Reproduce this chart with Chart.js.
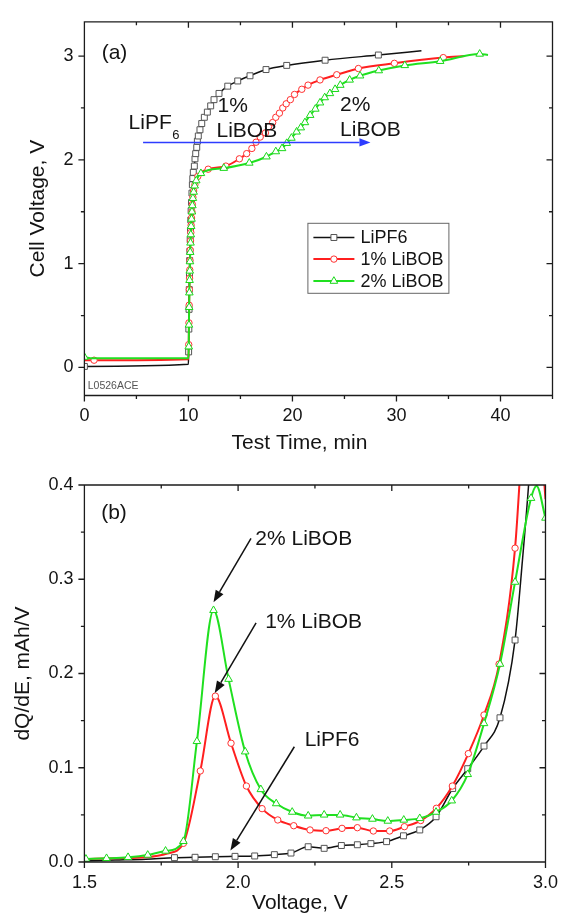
<!DOCTYPE html>
<html>
<head>
<meta charset="utf-8">
<script src="https://cdn.jsdelivr.net/npm/chart.js@4.4.1/dist/chart.umd.min.js"></script>
<style>
    html, body { margin: 0; padding: 0; background: #fff; overflow: hidden; }
    .panel { position: absolute; left: 0; width: 568px; height: 460px; }
    #panelA { top: 0; }
    #panelB { top: 460px; }
</style>
</head>
<body>
<div class="panel" id="panelA"><canvas id="chartA" width="568" height="460"></canvas></div>
<div class="panel" id="panelB"><canvas id="chartB" width="568" height="460"></canvas></div>
<script>
// --- Panel (a): cell voltage vs test time ---
const timeTicks = [0, 10, 20, 30, 40];
const timeMinor = [5, 15, 25, 35, 45];
const voltTicks = [0, 1, 2, 3];
const voltMinor = [0.5, 1.5, 2.5];

const timeLiPF6 = [0, 10, 10.02, 10.04, 10.06, 10.08, 10.1, 10.12, 10.14, 10.17, 10.2, 10.23, 10.26, 10.3, 10.34, 10.38, 10.42, 10.47, 10.57, 10.63, 10.7, 10.8, 10.86, 10.95, 11.11, 11.28, 11.53, 11.82, 12.14, 12.46, 12.94, 13.78, 14.74, 15.92, 17.46, 19.45, 23.14, 28.26, 32.4];
const voltLiPF6 = [0.01, 0.03, 0.15, 0.37, 0.56, 0.75, 0.89, 1.03, 1.12, 1.23, 1.32, 1.42, 1.51, 1.59, 1.68, 1.76, 1.82, 1.88, 1.94, 2.01, 2.06, 2.12, 2.18, 2.23, 2.29, 2.35, 2.41, 2.46, 2.52, 2.58, 2.64, 2.71, 2.76, 2.81, 2.87, 2.91, 2.96, 3.01, 3.05];

const time1pct = [0, 0.93, 10, 10.03, 10.05, 10.07, 10.09, 10.11, 10.13, 10.15, 10.17, 10.2, 10.23, 10.26, 10.3, 10.34, 10.38, 10.43, 10.5, 10.62, 10.9, 11.9, 13.6, 14.9, 15.6, 16.1, 16.5, 16.9, 17.4, 17.7, 18.1, 18.4, 18.75, 19.07, 19.4, 19.8, 20.2, 20.9, 21.5, 22.65, 24.26, 26.34, 29.8, 34.5, 36.6];
const volt1pct = [0.07, 0.07, 0.08, 0.22, 0.43, 0.6, 0.75, 0.86, 0.94, 1.03, 1.13, 1.22, 1.3, 1.37, 1.44, 1.5, 1.57, 1.64, 1.7, 1.76, 1.84, 1.91, 1.94, 2.01, 2.06, 2.11, 2.17, 2.22, 2.26, 2.32, 2.36, 2.41, 2.45, 2.5, 2.54, 2.58, 2.63, 2.68, 2.72, 2.77, 2.82, 2.88, 2.93, 2.985, 3.0];

const time2pct = [0, 0.6, 10, 10.03, 10.05, 10.07, 10.09, 10.11, 10.13, 10.15, 10.17, 10.2, 10.23, 10.26, 10.3, 10.34, 10.38, 10.43, 10.5, 10.6, 10.75, 11.2, 13.4, 15.85, 17.5, 18.4, 19.0, 19.45, 19.9, 20.4, 20.8, 21.2, 21.7, 22.2, 22.65, 23.1, 23.6, 24.1, 24.6, 25.5, 26.5, 28.3, 30.8, 34.2, 38.0, 38.8];
const volt2pct = [0.1, 0.09, 0.09, 0.2, 0.41, 0.58, 0.72, 0.84, 0.93, 1.02, 1.11, 1.2, 1.28, 1.36, 1.43, 1.5, 1.56, 1.63, 1.69, 1.75, 1.8, 1.87, 1.92, 1.97, 2.03, 2.08, 2.11, 2.16, 2.21, 2.27, 2.31, 2.36, 2.43, 2.49, 2.55, 2.6, 2.64, 2.68, 2.72, 2.77, 2.81, 2.86, 2.91, 2.95, 3.02, 3.01];

// --- Panel (b): dQ/dE vs voltage ---
const biasTicks = [1.5, 2.0, 2.5, 3.0];
const biasMinor = [1.75, 2.25, 2.75];
const dqdeTicks = [0, 0.1, 0.2, 0.3, 0.4];
const dqdeMinor = [0.05, 0.15, 0.25, 0.35];

const biasLiPF6 = [1.5, 1.6, 1.7, 1.793, 1.86, 1.926, 1.99, 2.054, 2.118, 2.172, 2.228, 2.28, 2.336, 2.388, 2.432, 2.483, 2.538, 2.591, 2.644, 2.698, 2.747, 2.8, 2.852, 2.901, 2.925, 2.945, 2.965];
const dqdeLiPF6 = [0.001, 0.002, 0.003, 0.0046, 0.005, 0.0056, 0.006, 0.0064, 0.0078, 0.0095, 0.0162, 0.0145, 0.0175, 0.0183, 0.0195, 0.0216, 0.0278, 0.034, 0.048, 0.078, 0.099, 0.123, 0.153, 0.2355, 0.32, 0.4, 0.5];

const bias1pct = [1.5, 1.6, 1.7, 1.77, 1.822, 1.877, 1.926, 1.977, 2.027, 2.078, 2.129, 2.181, 2.234, 2.286, 2.338, 2.388, 2.44, 2.493, 2.541, 2.594, 2.645, 2.697, 2.749, 2.8, 2.849, 2.901, 2.925, 2.95, 2.985, 3.0];
const dqde1pct = [0.003, 0.004, 0.005, 0.009, 0.0198, 0.0966, 0.176, 0.126, 0.0806, 0.0566, 0.0446, 0.0385, 0.034, 0.0332, 0.0357, 0.0364, 0.0329, 0.0329, 0.0375, 0.044, 0.057, 0.0806, 0.115, 0.156, 0.21, 0.333, 0.45, 0.55, 0.45, 0.385];

const bias2pct = [1.505, 1.572, 1.642, 1.706, 1.764, 1.822, 1.866, 1.92, 1.969, 2.023, 2.074, 2.124, 2.176, 2.228, 2.28, 2.332, 2.385, 2.437, 2.487, 2.539, 2.591, 2.644, 2.695, 2.747, 2.8, 2.852, 2.901, 2.953, 2.971, 3.0];
const dqde2pct = [0.0032, 0.0039, 0.005, 0.0074, 0.0117, 0.022, 0.128, 0.267, 0.194, 0.117, 0.077, 0.062, 0.053, 0.049, 0.05, 0.05, 0.047, 0.0456, 0.0435, 0.0446, 0.0463, 0.053, 0.065, 0.093, 0.147, 0.21, 0.297, 0.386, 0.399, 0.365];

const seriesNames = ['LiPF6', '1% LiBOB', '2% LiBOB'];

const FONT = '"Liberation Sans", Arial, Helvetica, sans-serif';
const INK = '#141414';
const STYLES = [
    { line: '#111111', edge: '#555555', shape: 'rect', radius: 4.2, width: 1.5 },
    { line: '#ff1f1f', edge: '#ff3030', shape: 'circle', radius: 3.2, width: 2 },
    { line: '#20e020', edge: '#18d818', shape: 'triangle', radius: 4.4, width: 2 }
];

// points without a marker (line-only vertices), listed by x value
const noMarkA = [[10, 32.4], [0, 10, 36.6], [0.6, 10, 38.8]];
const noMarkB = [[1.5, 1.6, 1.7, 2.925, 2.945, 2.965], [1.5, 1.6, 1.7, 1.77, 2.925, 2.95, 2.985, 3.0], [2.971]];

function points(xs, ys, bare) {
    return xs.map((x, i) => ({ x, y: ys[i], bare: bare.includes(x) }));
}

function makeDataset(i, data) {
    const s = STYLES[i];
    return {
        label: seriesNames[i],
        data,
        order: 3 - i,
        borderColor: s.line,
        borderWidth: s.width,
        cubicInterpolationMode: 'monotone',
        pointStyle: s.shape,
        pointRadius: ctx => (ctx.raw && ctx.raw.bare ? 0 : s.radius),
        pointBorderColor: s.edge,
        pointBackgroundColor: '#ffffff',
        pointBorderWidth: 1
    };
}

function txt(ctx, str, x, y, size, color, align) {
    ctx.font = size + 'px ' + FONT;
    ctx.fillStyle = color || INK;
    ctx.textAlign = align || 'left';
    ctx.textBaseline = 'middle';
    ctx.fillText(str, x, y);
}

function arrow(ctx, x1, y1, x2, y2, color, head, half) {
    const ang = Math.atan2(y2 - y1, x2 - x1);
    const bx = x2 - Math.cos(ang) * head, by = y2 - Math.sin(ang) * head;
    ctx.strokeStyle = color;
    ctx.fillStyle = color;
    ctx.lineWidth = 1.5;
    ctx.beginPath();
    ctx.moveTo(x1, y1);
    ctx.lineTo(bx, by);
    ctx.stroke();
    ctx.beginPath();
    ctx.moveTo(x2, y2);
    ctx.lineTo(bx + Math.sin(ang) * half, by - Math.cos(ang) * half);
    ctx.lineTo(bx - Math.sin(ang) * half, by + Math.cos(ang) * half);
    ctx.closePath();
    ctx.fill();
}

// frame with Origin-style ticks: out on left/bottom, in on top/right
function framePlugin(xMaj, xMin, yMaj, yMin, xTitle, xTitleShift) {
    return {
        id: 'frame',
        afterDatasetsDraw(chart) {
            const { ctx, chartArea: a } = chart;
            const sx = chart.scales.x, sy = chart.scales.y;
            ctx.save();
            ctx.strokeStyle = '#1c1c1c';
            ctx.lineWidth = 1.3;
            ctx.beginPath();
            ctx.rect(a.left, a.top, a.right - a.left, a.bottom - a.top);
            const xt = (vals, len) => vals.forEach(v => {
                const p = sx.getPixelForValue(v);
                ctx.moveTo(p, a.bottom); ctx.lineTo(p, a.bottom + len);
                ctx.moveTo(p, a.top); ctx.lineTo(p, a.top + len);
            });
            const yt = (vals, len) => vals.forEach(v => {
                const p = sy.getPixelForValue(v);
                ctx.moveTo(a.left, p); ctx.lineTo(a.left - len, p);
                ctx.moveTo(a.right, p); ctx.lineTo(a.right - len, p);
            });
            xt(xMaj, 6); xt(xMin, 3.5);
            yt(yMaj, 6); yt(yMin, 3.5);
            ctx.stroke();
            // bottom axis title sits a little left of centre in the original
            txt(ctx, xTitle, (a.left + a.right) / 2 + xTitleShift, chart.height - 17, 21, INK, 'center');
            ctx.restore();
        }
    };
}

function scales(xr, xt, xf, yr, yt, yf, yTitle, yTitlePad, xHeight) {
    const tickFont = { family: FONT, size: 18 };
    return {
        x: {
            type: 'linear', min: xr[0], max: xr[1], bounds: 'data',
            grid: { display: false, drawTicks: false }, border: { display: false },
            ticks: { padding: 10, font: tickFont, color: INK, maxRotation: 0, autoSkip: false, callback: xf },
            afterBuildTicks: s => { s.ticks = xt.map(v => ({ value: v })); },
            afterFit: s => { s.height = xHeight; }
        },
        y: {
            type: 'linear', min: yr[0], max: yr[1], bounds: 'data',
            grid: { display: false, drawTicks: false }, border: { display: false },
            ticks: { padding: 11, font: tickFont, color: INK, autoSkip: false, callback: yf },
            afterBuildTicks: s => { s.ticks = yt.map(v => ({ value: v })); },
            afterFit: s => { s.width = 84.4; },
            title: { display: true, text: yTitle, color: INK, font: { family: FONT, size: 21 }, padding: { top: yTitlePad, bottom: 0 } }
        }
    };
}

const common = {
    responsive: false,
    animation: false,
    plugins: { legend: { display: false }, tooltip: { enabled: false } }
};

// ---------- chart (a) ----------
const notesA = {
    id: 'notesA',
    afterDraw(chart) {
        const { ctx, chartArea: a } = chart;
        const X = v => chart.scales.x.getPixelForValue(v);
        const Y = v => chart.scales.y.getPixelForValue(v);
        ctx.save();
        txt(ctx, '(a)', X(1.66), Y(3.03), 21);
        txt(ctx, 'LiPF', X(4.25), Y(2.357), 21);
        txt(ctx, '6', X(8.45), Y(2.24), 13);
        txt(ctx, '1%', X(12.8), Y(2.52), 21);
        txt(ctx, 'LiBOB', X(12.7), Y(2.28), 21);
        txt(ctx, '2%', X(24.58), Y(2.53), 21);
        txt(ctx, 'LiBOB', X(24.58), Y(2.285), 21);
        txt(ctx, 'L0526ACE', X(0.32), Y(-0.18), 10.5, '#555');
        arrow(ctx, X(5.64), Y(2.168), X(27.5), Y(2.168), '#2d3cff', 11, 4.2);

        // legend box
        const bx = a.left + 223, by = a.top + 201;
        ctx.strokeStyle = '#666';
        ctx.lineWidth = 1;
        ctx.strokeRect(bx + 0.5, by + 0.5, 141, 70);
        [14.7, 36.3, 58.3].forEach((dy, i) => {
            const s = STYLES[i];
            const yy = by + dy;
            ctx.strokeStyle = s.line;
            ctx.lineWidth = s.width;
            ctx.beginPath();
            ctx.moveTo(bx + 6, yy); ctx.lineTo(bx + 47, yy);
            ctx.stroke();
            ctx.fillStyle = '#fff';
            ctx.strokeStyle = s.edge;
            ctx.lineWidth = 1;
            Chart.helpers.drawPoint(ctx, { pointStyle: s.shape, radius: s.radius, rotation: 0, borderWidth: 1 }, bx + 26.5, yy);
            txt(ctx, seriesNames[i], bx + 53, yy + 0.5, 18);
        });
        ctx.restore();
    }
};

new Chart(document.getElementById('chartA'), {
    type: 'line',
    data: {
        datasets: [
            makeDataset(0, points(timeLiPF6, voltLiPF6, noMarkA[0])),
            makeDataset(1, points(time1pct, volt1pct, noMarkA[1])),
            makeDataset(2, points(time2pct, volt2pct, noMarkA[2]))
        ]
    },
    options: Object.assign({}, common, {
        layout: { padding: { left: 0, right: 15.5, top: 10, bottom: 0 } },
        scales: scales([0, 45], timeTicks, v => String(v), [-0.27, 3.33], voltTicks, v => String(v),
            'Cell Voltage, V', 25.4, 64.5)
    }),
    plugins: [framePlugin(timeTicks, timeMinor, voltTicks, voltMinor, 'Test Time, min', -19), notesA]
});

// ---------- chart (b) ----------
const notesB = {
    id: 'notesB',
    afterDraw(chart) {
        const { ctx } = chart;
        const X = v => chart.scales.x.getPixelForValue(v);
        const Y = v => chart.scales.y.getPixelForValue(v);
        ctx.save();
        txt(ctx, '(b)', X(1.5545), Y(0.3706), 21);
        txt(ctx, '2% LiBOB', X(2.056), Y(0.3427), 21);
        txt(ctx, '1% LiBOB', X(2.088), Y(0.2539), 21);
        txt(ctx, 'LiPF6', X(2.2165), Y(0.1294), 21);
        arrow(ctx, X(2.042), Y(0.3434), X(1.92), Y(0.2755), '#111', 12, 4.5);
        arrow(ctx, X(2.0585), Y(0.2536), X(1.924), Y(0.1793), '#111', 12, 4.5);
        arrow(ctx, X(2.183), Y(0.1223), X(1.975), Y(0.0122), '#111', 12, 4.5);
        ctx.restore();
    }
};

new Chart(document.getElementById('chartB'), {
    type: 'line',
    data: {
        datasets: [
            makeDataset(0, points(biasLiPF6, dqdeLiPF6, noMarkB[0])),
            makeDataset(1, points(bias1pct, dqde1pct, noMarkB[1])),
            makeDataset(2, points(bias2pct, dqde2pct, noMarkB[2]))
        ]
    },
    options: Object.assign({}, common, {
        layout: { padding: { left: 0, right: 15.5, top: 25, bottom: 0 } },
        scales: scales([1.5, 3.0], biasTicks, v => v.toFixed(1), [0, 0.4], dqdeTicks, v => v.toFixed(1),
            'dQ/dE, mAh/V', 10.9, 58)
    }),
    plugins: [framePlugin(biasTicks, biasMinor, dqdeTicks, dqdeMinor, 'Voltage, V', -15), notesB]
});
</script>
</body>
</html>
